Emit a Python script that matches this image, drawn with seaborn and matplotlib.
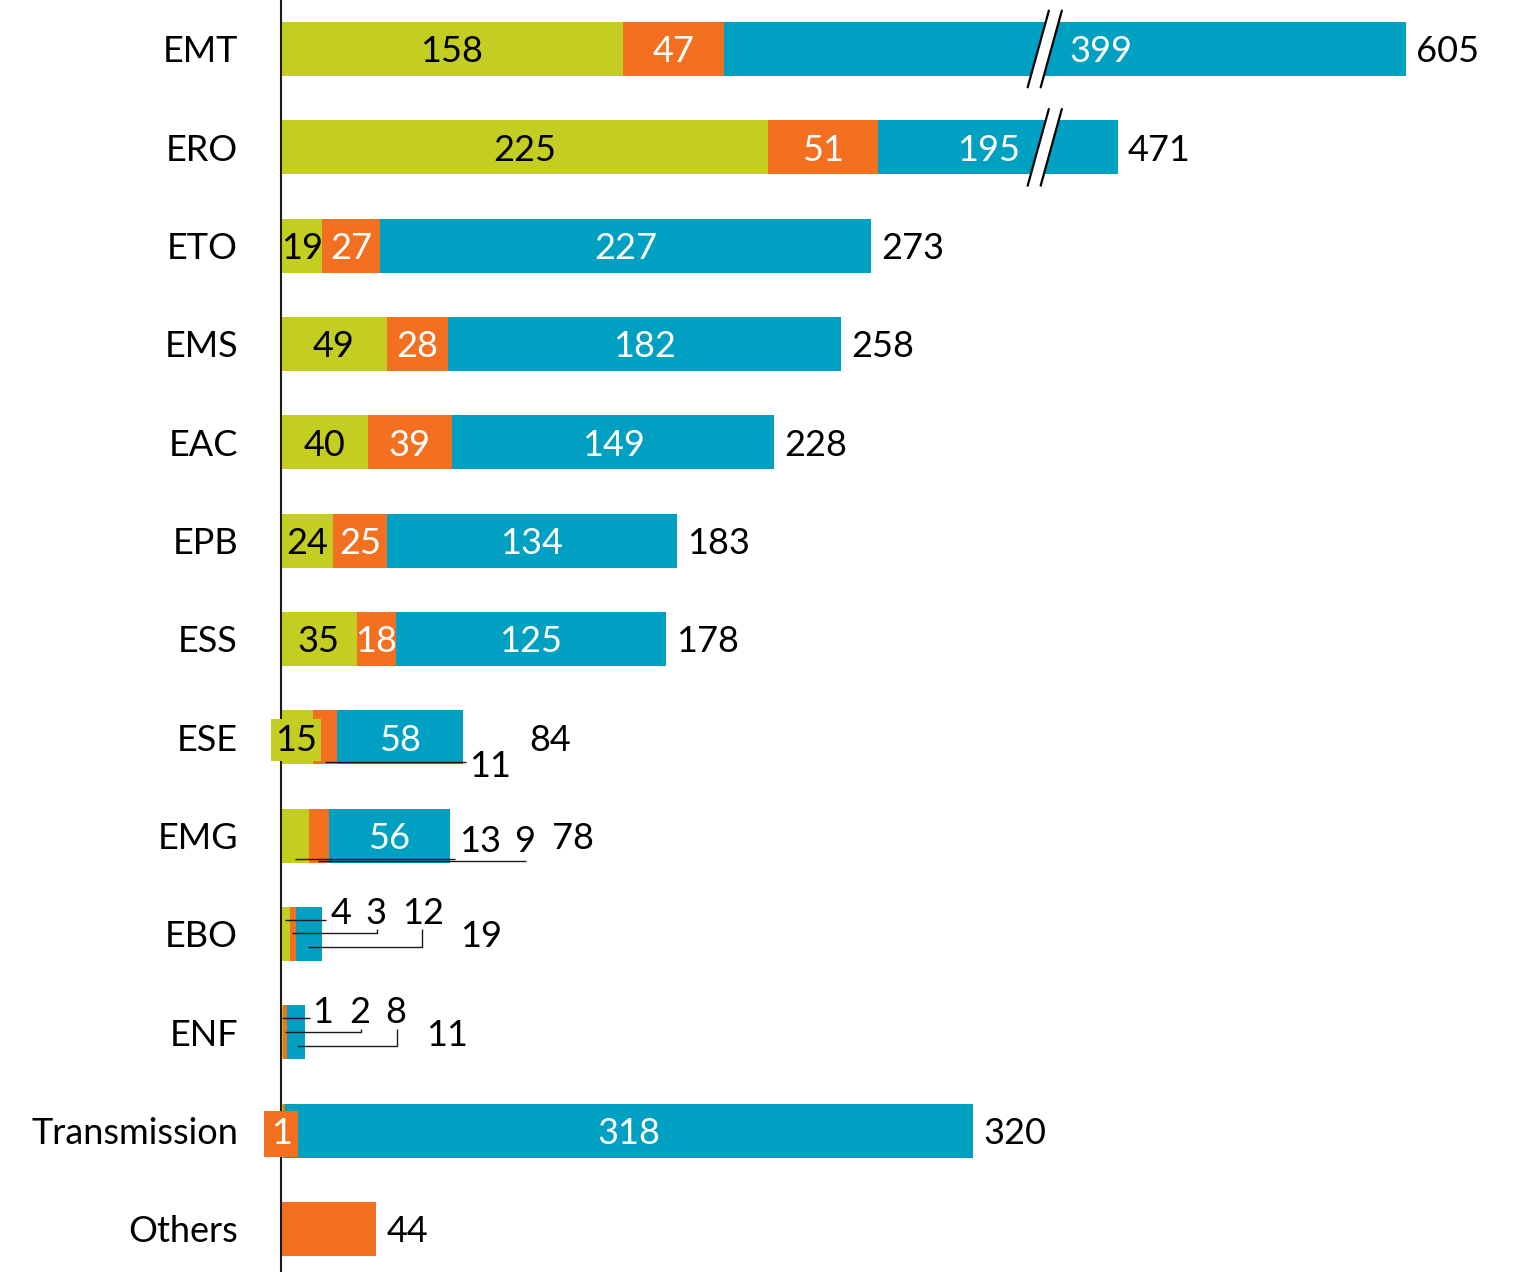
import numpy as np
import pandas as pd
import matplotlib
matplotlib.use("Agg")
import matplotlib.pyplot as plt
from matplotlib.patches import Polygon
import seaborn as sns

# ---------------- data ----------------
categories = ["EMT", "ERO", "ETO", "EMS", "EAC", "EPB", "ESS", "ESE", "EMG",
              "EBO", "ENF", "Transmission", "Others"]
green_vals = [158, 225, 19, 49, 40, 24, 35, 15, 13, 4, 1, 1, 0]
orange_vals = [47, 51, 27, 28, 39, 25, 18, 11, 9, 3, 2, 1, 44]
blue_vals = [399, 195, 227, 182, 149, 134, 125, 58, 56, 12, 8, 318, 0]
totals = [605, 471, 273, 258, 228, 183, 178, 84, 78, 19, 11, 320, 44]

GREEN = "#C3CD22"
ORANGE = "#F37021"
BLUE = "#00A0C3"

# broken axis: values above BREAK_AT are shifted left by BREAK_GAP
BREAK_AT = 353
BREAK_GAP = 84


def disp(v):
    v = np.asarray(v, dtype=float)
    return np.where(v <= BREAK_AT, v, np.maximum(BREAK_AT, v - BREAK_GAP))


g_end = disp(np.array(green_vals))
o_end = disp(np.array(green_vals) + np.array(orange_vals))
b_end = disp(np.array(green_vals) + np.array(orange_vals) + np.array(blue_vals))

df = pd.DataFrame({"cat": categories, "g": g_end, "o": o_end, "b": b_end})

# ---------------- style ----------------
sns.set_style("white")
plt.rcParams["font.family"] = ["Lato", "DejaVu Sans"]
FS = 26

W, H = 1516, 1272
fig = plt.figure(figsize=(W / 100, H / 100), dpi=100)
ax = fig.add_axes([0, 0, 1, 1])

X0 = 281.0          # pixel of value 0
SX = 2.163          # pixels per unit
Y0 = 49.0           # pixel of first category center
SY = 98.33          # pixels per category


def px(x):
    return (x - X0) / SX


def py(y):
    return (y - Y0) / SY


for col, colr in (("b", BLUE), ("o", ORANGE), ("g", GREEN)):
    sns.barplot(data=df, y="cat", x=col, orient="h", color=colr, width=0.55,
                saturation=1, errorbar=None, linewidth=0, ax=ax, order=categories)

ax.set_xlim(px(0), px(W))
ax.set_ylim(py(H), py(0))
ax.set_xticks([])
ax.set_xlabel("")
ax.set_ylabel("")
for s in ("top", "right", "bottom"):
    ax.spines[s].set_visible(False)
ax.spines["left"].set_position(("data", 0))
ax.spines["left"].set_color("#1a1a1a")
ax.spines["left"].set_linewidth(1.5)
ax.spines["left"].set_zorder(1.5)
ax.tick_params(axis="y", length=0, pad=31, labelsize=FS, labelcolor="black")

# ---------------- segment labels ----------------
outside = {7: ("o",), 8: ("g", "o"), 9: ("g", "o", "b"), 10: ("g", "o", "b"), 11: ("g", "o")}
shift = {(0, "b"): 16.4, (1, "b"): -4.2}
starts = {"g": np.zeros(len(categories)), "o": g_end, "b": o_end}
ends = {"g": g_end, "o": o_end, "b": b_end}
vals = {"g": green_vals, "o": orange_vals, "b": blue_vals}
tcol = {"g": "black", "o": "white", "b": "white"}

for i in range(len(categories)):
    for seg in ("g", "o", "b"):
        v = vals[seg][i]
        if v == 0 or seg in outside.get(i, ()):
            continue
        if i == 12:
            continue
        xc = (starts[seg][i] + ends[seg][i]) / 2 + shift.get((i, seg), 0)
        kw = {}
        if i == 7 and seg == "g":
            xc = px(296)
            kw = dict(bbox=dict(boxstyle="square,pad=0.12", fc=GREEN, ec="none"))
        ax.text(xc, i, str(v), ha="center", va="center_baseline", fontsize=FS,
                color=tcol[seg], zorder=5, **kw)

# Transmission orange boxed label
ax.text(px(281.5), 11, str(orange_vals[11]), ha="center", va="center_baseline",
        fontsize=FS, color="white", zorder=6,
        bbox=dict(boxstyle="square,pad=0.18", fc=ORANGE, ec="none"))

# Others: label only total
# ---------------- callouts with leader lines (layout in pixels) ----------------
callouts = [
    # (cat idx, series values, text centre px, leader path px)
    (7, orange_vals, (490, 763), [(325, 762), (466, 762)]),
    (8, green_vals, (480, 838), [(295, 859), (455, 859)]),
    (8, orange_vals, (525, 838), [(318, 861), (526, 861)]),
    (9, green_vals, (341, 910), [(285, 920), (326, 920)]),
    (9, orange_vals, (376, 910), [(292, 933), (377, 933), (377, 929)]),
    (9, blue_vals, (423, 910), [(308, 947), (422, 947), (422, 929)]),
    (10, green_vals, (323, 1009), [(282, 1018), (310, 1018)]),
    (10, orange_vals, (360, 1009), [(285, 1032), (361, 1032), (361, 1029)]),
    (10, blue_vals, (396, 1009), [(297, 1046), (397, 1046), (397, 1029)]),
]
for i, series, (tx, ty), path in callouts:
    ax.text(px(tx), py(ty), str(series[i]), ha="center", va="center_baseline",
            fontsize=FS, color="black", zorder=5)
    xs = [px(p[0]) for p in path]
    ys = [py(p[1]) for p in path]
    ax.plot(xs, ys, color="#1a1a1a", lw=1.0, zorder=4, solid_capstyle="butt")

# ---------------- totals ----------------
total_gap_px = {7: 67, 8: 102, 9: 138, 10: 121}
for i, t in enumerate(totals):
    gap = total_gap_px.get(i, 10)
    ax.annotate(str(t), (b_end[i], i), xytext=(gap * 0.72, 0), textcoords="offset points",
                ha="left", va="center_baseline", fontsize=FS, color="black")

# ---------------- break marks ----------------
for i, t in enumerate(totals):
    if t > BREAK_AT:
        yb, yt = i + 0.39, i - 0.39
        poly = Polygon([(BREAK_AT - 7.8, yb), (BREAK_AT + 2.0, yt), (BREAK_AT + 8.0, yt),
                        (BREAK_AT - 1.8, yb)], closed=True, fc="white", ec="none", zorder=6)
        ax.add_patch(poly)
        ax.plot([BREAK_AT - 7.8, BREAK_AT + 2.0], [yb, yt], color="black", lw=1.6, zorder=7)
        ax.plot([BREAK_AT - 1.8, BREAK_AT + 8.0], [yb, yt], color="black", lw=1.6, zorder=7)

fig.savefig("out.png", dpi=100)
